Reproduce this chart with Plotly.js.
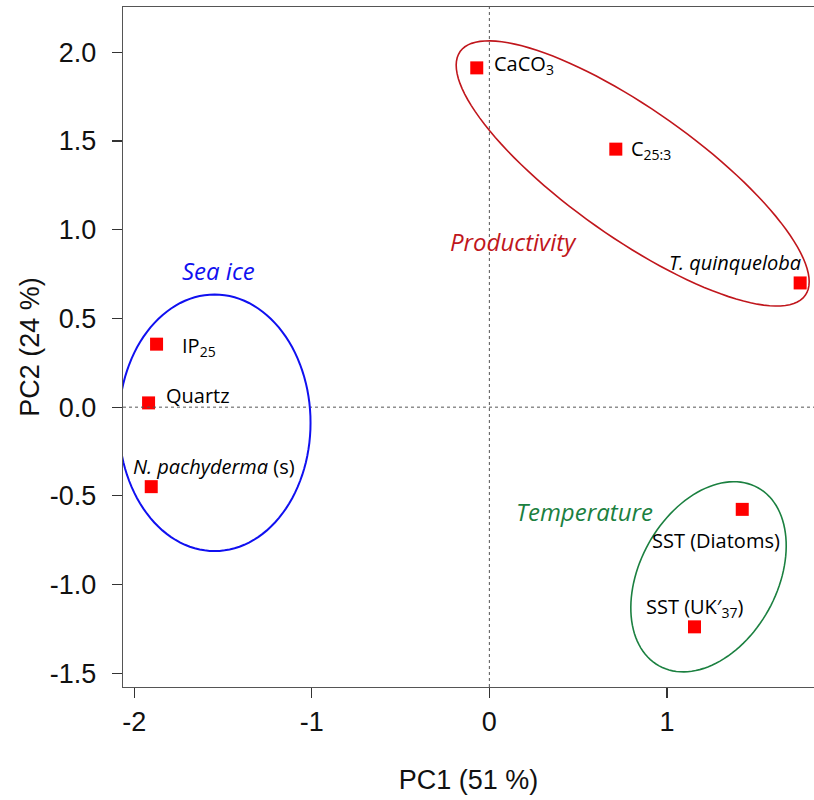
<!DOCTYPE html>
<html>
<head>
<meta charset="utf-8">
<script src="https://cdn.plot.ly/plotly-3.0.1.min.js"></script>
<style>html,body{margin:0;padding:0;background:#fff;}#chart{width:814px;height:800px;}</style>
</head>
<body>
<div id="chart"></div>
<script>
// ---- data ----
var varNames = ['CaCO<sub>3</sub>', 'C<sub>25:3</sub>', '<i>T. quinqueloba</i>', 'IP<sub>25</sub>', 'Quartz', '<i>N. pachyderma</i> (s)', 'SST (Diatoms)', 'SST (UK\u2032<sub>37</sub>)'];
var pc1 = [-0.071, 0.712, 1.750, -1.874, -1.919, -1.904, 1.424, 1.155];
var pc2 = [1.912, 1.454, 0.700, 0.355, 0.024, -0.448, -0.576, -1.238];

var groupNames = ['Sea ice', 'Productivity', 'Temperature'];
var groupLabelX = [-1.527, 0.134, 0.535];
var groupLabelY = [0.772, 0.931, -0.590];
var ellCx = [-1.547, 0.807, 1.234];
var ellCy = [-0.088, 1.317, -0.956];
var ellA = [0.540, 1.190, 0.574];
var ellB = [0.723, 0.361, 0.386];
var ellAngle = [0, -35.25, 61.0];

var xTickVals = [-2, -1, 0, 1];
var xTickText = ['-2', '-1', '0', '1'];
var yTickVals = [2.0, 1.5, 1.0, 0.5, 0.0, -0.5, -1.0, -1.5];
var yTickText = ['2.0', '1.5', '1.0', '0.5', '0.0', '-0.5', '-1.0', '-1.5'];

// ---- styles / positions ----
var groupColors = ['#1010f0', '#c0161c', '#1b8040'];
var ellWidths = [2, 1.6, 1.6];
var labelAnchor = ['left', 'left', 'right', 'left', 'left', 'left', 'right', 'center'];
var labelXShift = [15, 13, 3, 23, 15, -20, 40, 0];
var labelYShift = [3, 0, 20, -2, 7, 20, -31, 19];

function ellipsePath(cx, cy, a, b, angDeg) {
  var t = angDeg * Math.PI / 180, n = 120, s = '';
  for (var i = 0; i <= n; i++) {
    var p = 2 * Math.PI * i / n;
    var ex = a * Math.cos(p), ey = b * Math.sin(p);
    var x = cx + ex * Math.cos(t) - ey * Math.sin(t);
    var y = cy + ex * Math.sin(t) + ey * Math.cos(t);
    s += (i === 0 ? 'M' : 'L') + x.toFixed(4) + ',' + y.toFixed(4);
  }
  return s + 'Z';
}

var shapes = [
  {type: 'line', xref: 'x', yref: 'paper', x0: 0, x1: 0, y0: 0, y1: 1, line: {color: '#555', width: 1, dash: 'dot'}},
  {type: 'line', xref: 'paper', yref: 'y', x0: 0, x1: 1, y0: 0, y1: 0, line: {color: '#555', width: 1, dash: 'dot'}}
];
for (var g = 0; g < groupNames.length; g++) {
  shapes.push({type: 'path', xref: 'x', yref: 'y', path: ellipsePath(ellCx[g], ellCy[g], ellA[g], ellB[g], ellAngle[g]),
    line: {color: groupColors[g], width: ellWidths[g]}});
}

var annotations = [];
for (var i = 0; i < varNames.length; i++) {
  annotations.push({x: pc1[i], y: pc2[i], xref: 'x', yref: 'y', text: varNames[i], showarrow: false,
    xanchor: labelAnchor[i], yanchor: 'middle', xshift: labelXShift[i], yshift: labelYShift[i],
    font: {family: 'Open Sans, sans-serif', size: 20, color: '#000'}});
}
for (var g = 0; g < groupNames.length; g++) {
  annotations.push({x: groupLabelX[g], y: groupLabelY[g], xref: 'x', yref: 'y', text: '<i>' + groupNames[g] + '</i>',
    showarrow: false, xanchor: 'center', yanchor: 'middle',
    font: {family: 'Open Sans, sans-serif', size: 24, color: groupColors[g]}});
}

var trace = {x: pc1, y: pc2, type: 'scatter', mode: 'markers', cliponaxis: false,
  marker: {symbol: 'square', size: 13, color: '#ff0000', line: {width: 0}}, hoverinfo: 'skip'};

var layout = {
  width: 814, height: 800,
  margin: {l: 123, r: 0, t: 7, b: 113},
  paper_bgcolor: '#fff', plot_bgcolor: '#fff',
  showlegend: false,
  font: {family: 'Liberation Sans, Arial, sans-serif', color: '#000'},
  xaxis: {range: [-2.063, 1.828], tickvals: xTickVals, ticktext: xTickText, showgrid: false, zeroline: false,
    showline: true, mirror: true, linecolor: '#555', linewidth: 1.3, ticks: 'outside', ticklen: 10, tickcolor: '#333', tickwidth: 1.2,
    ticklabelstandoff: 0, tickfont: {size: 27, family: 'Liberation Sans, Arial, sans-serif', color: '#111'},
    title: {text: 'PC1 (51 %)', font: {size: 27, family: 'Liberation Sans, Arial, sans-serif', color: '#111'}, standoff: 34}},
  yaxis: {range: [-1.577, 2.255], tickvals: yTickVals, ticktext: yTickText, showgrid: false, zeroline: false,
    showline: true, mirror: false, linecolor: '#555', linewidth: 1.3, ticks: 'outside', ticklen: 10, tickcolor: '#333', tickwidth: 1.2,
    ticklabelstandoff: 10, tickfont: {size: 27, family: 'Liberation Sans, Arial, sans-serif', color: '#111'},
    title: {text: 'PC2 (24 %)', font: {size: 27, family: 'Liberation Sans, Arial, sans-serif', color: '#111'}, standoff: 2}},
  shapes: shapes,
  annotations: annotations
};

Plotly.newPlot('chart', [trace], layout, {displayModeBar: false, staticPlot: true});
</script>
</body>
</html>
